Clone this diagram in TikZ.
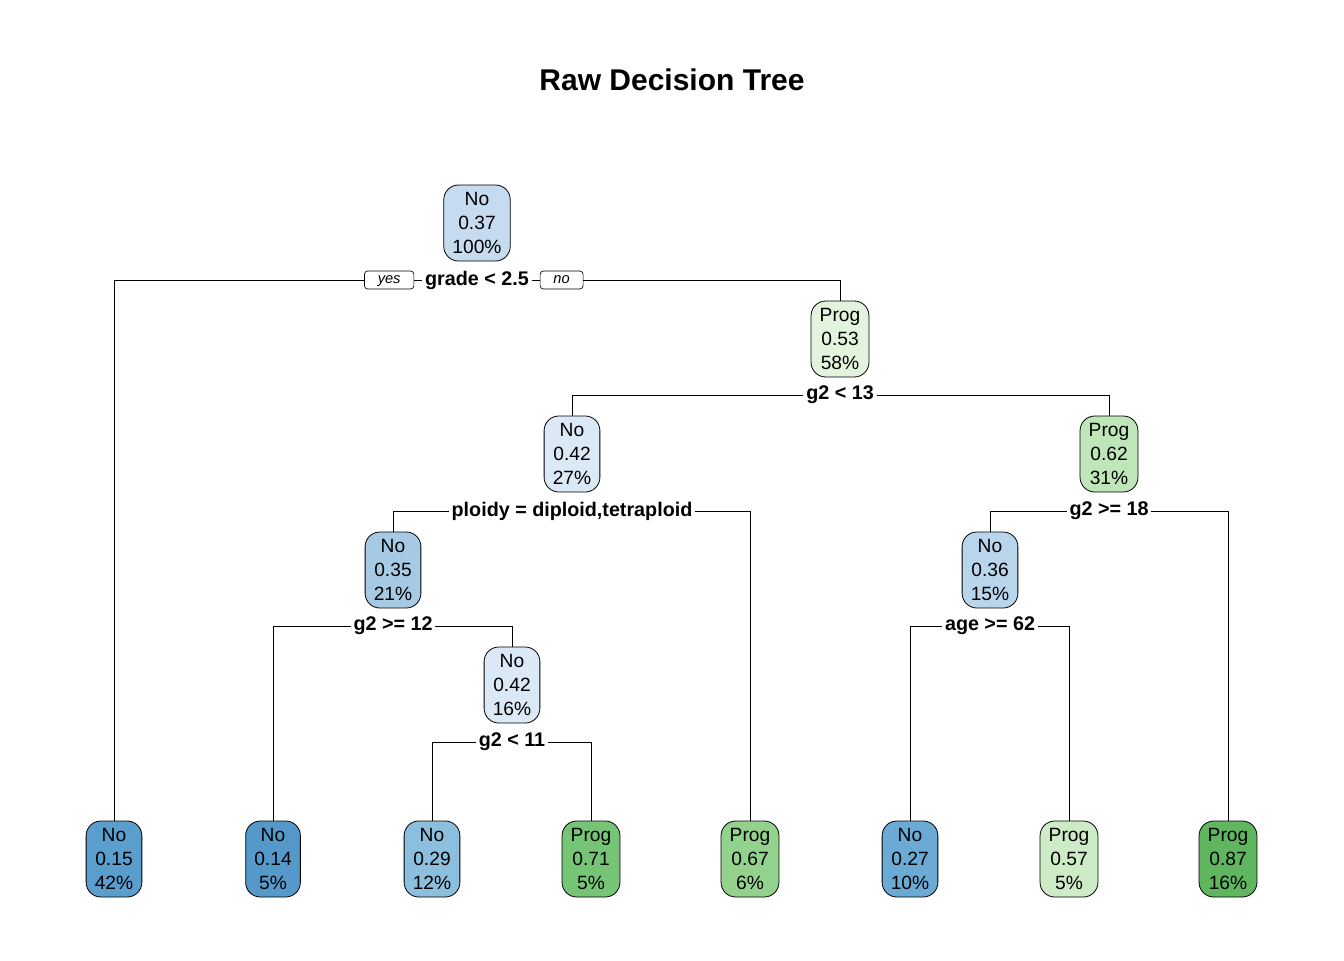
\documentclass[tikz,border=0pt]{standalone}
\usepackage{fontspec}
\setmainfont{Liberation Sans}
\usepackage{tikz}
\usetikzlibrary{positioning,calc}
\definecolor{noA}{HTML}{C6DBEF}
\definecolor{noB}{HTML}{DBE9F6}
\definecolor{noC}{HTML}{A6CAE4}
\definecolor{noD}{HTML}{B9D5EC}
\definecolor{noE}{HTML}{5A9ECE}
\definecolor{noF}{HTML}{5599CB}
\definecolor{noG}{HTML}{8CBEDD}
\definecolor{noH}{HTML}{6AAAD5}
\definecolor{prA}{HTML}{E3F4DE}
\definecolor{prB}{HTML}{BFE6B8}
\definecolor{prC}{HTML}{76C576}
\definecolor{prD}{HTML}{92D28C}
\definecolor{prE}{HTML}{CCEBC6}
\definecolor{prF}{HTML}{5FB65F}
\tikzset{
  treenode/.style={draw=black,line width=.6pt,rounded corners=11pt,align=center,
    inner xsep=6.5pt,minimum height=57pt,
    font=\fontsize{14.4}{18}\selectfont},
  splitlab/.style={fill=white,inner xsep=2pt,inner ysep=1pt,
    font=\fontsize{14.8}{16}\selectfont\bfseries},
  yesno/.style={draw=black,line width=.5pt,rounded corners=2.5pt,fill=white,
    inner xsep=10pt,inner ysep=0pt,text height=9.5pt,text depth=4pt,
    font=\fontsize{11}{12}\selectfont\itshape},
  edge/.style={line width=.6pt}
}
\begin{document}
\begin{tikzpicture}[x=0.75pt,y=-0.75pt]
\useasboundingbox (0,0) rectangle (1344,960);
\node[font=\fontsize{22.5}{26}\selectfont\bfseries] (title) at (672,80) {Raw Decision Tree};
\node[treenode,fill=noA] (n1) at (477,223) {No\\0.37\\100\%};
\node[treenode,fill=prA] (n3) at (840,339) {Prog\\0.53\\58\%};
\node[treenode,fill=noB] (n6) at (572,454) {No\\0.42\\27\%};
\node[treenode,fill=prB] (n7) at (1109,454) {Prog\\0.62\\31\%};
\node[treenode,fill=noC] (n12) at (393,570) {No\\0.35\\21\%};
\node[treenode,fill=noD] (n14) at (990,570) {No\\0.36\\15\%};
\node[treenode,fill=noB] (n25) at (512,685) {No\\0.42\\16\%};
\node[treenode,fill=noE] (n2) at (114,859) {No\\0.15\\42\%};
\node[treenode,fill=noF] (n24) at (273,859) {No\\0.14\\5\%};
\node[treenode,fill=noG] (n50) at (432,859) {No\\0.29\\12\%};
\node[treenode,fill=prC] (n51) at (591,859) {Prog\\0.71\\5\%};
\node[treenode,fill=prD] (n13) at (750,859) {Prog\\0.67\\6\%};
\node[treenode,fill=noH] (n28) at (910,859) {No\\0.27\\10\%};
\node[treenode,fill=prE] (n29) at (1069,859) {Prog\\0.57\\5\%};
\node[treenode,fill=prF] (n15) at (1228,859) {Prog\\0.87\\16\%};
\node[splitlab] (s1) at (477,280) {grade < 2.5};
\node[yesno,left=6pt of s1] (yes) {yes};
\node[yesno,right=6pt of s1] (no) {no};
\node[splitlab] (s3) at (840,395) {g2 < 13};
\node[splitlab] (s6) at (572,511) {ploidy = diploid,tetraploid};
\node[splitlab] (s7) at (1109,511) {g2 >= 18};
\node[splitlab] (s12) at (393,626) {g2 >= 12};
\node[splitlab] (s14) at (990,626) {age >= 62};
\node[splitlab] (s25) at (512,742) {g2 < 11};
\draw[edge] (n2.north) |- (yes.west);
\draw[edge] (yes.east) -- (s1.west);
\draw[edge] (s1.east) -- (no.west);
\draw[edge] (no.east) -| (n3.north);
\draw[edge] (n6.north) |- (s3.west);
\draw[edge] (s3.east) -| (n7.north);
\draw[edge] (n12.north) |- (s6.west);
\draw[edge] (s6.east) -| (n13.north);
\draw[edge] (n14.north) |- (s7.west);
\draw[edge] (s7.east) -| (n15.north);
\draw[edge] (n24.north) |- (s12.west);
\draw[edge] (s12.east) -| (n25.north);
\draw[edge] (n28.north) |- (s14.west);
\draw[edge] (s14.east) -| (n29.north);
\draw[edge] (n50.north) |- (s25.west);
\draw[edge] (s25.east) -| (n51.north);
\end{tikzpicture}
\end{document}
